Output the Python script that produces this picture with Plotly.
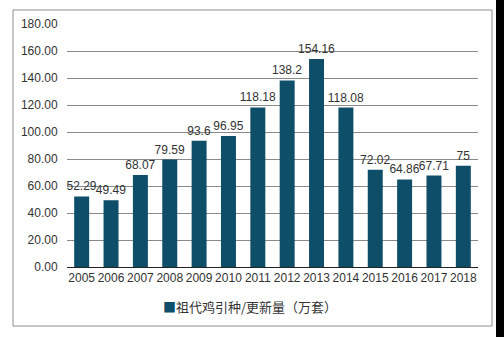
import plotly.graph_objects as go

years = ["2005", "2006", "2007", "2008", "2009", "2010", "2011",
         "2012", "2013", "2014", "2015", "2016", "2017", "2018"]
values = [52.29, 49.49, 68.07, 79.59, 93.6, 96.95, 118.18,
          138.2, 154.16, 118.08, 72.02, 64.86, 67.71, 75]
labels = ["52.29", "49.49", "68.07", "79.59", "93.6", "96.95", "118.18",
          "138.2", "154.16", "118.08", "72.02", "64.86", "67.71", "75"]
series_name = "祖代鸡引种/更新量（万套）"
y_ticks = [0, 20, 40, 60, 80, 100, 120, 140, 160, 180]

bar_color = "#0e4e68"
font_family = "Liberation Sans, Arial, sans-serif"

fig = go.Figure()
fig.add_trace(go.Bar(
    x=years, y=values, text=labels, textposition="outside",
    textfont=dict(size=12, color="#333333", family=font_family),
    marker=dict(color=bar_color, line=dict(width=0)),
    cliponaxis=False, constraintext="none", showlegend=False,
    name=series_name,
))

W, H = 504, 337
L, R, T, B = 67, 26, 24, 70
pw, ph = W - L - R, H - T - B


def px(x):
    return (x - L) / pw


def py(y):
    return (H - B - y) / ph


fig.update_layout(
    width=W, height=H,
    margin=dict(l=L, r=R, t=T, b=B, pad=0),
    paper_bgcolor="white", plot_bgcolor="white",
    bargap=0.49,
    font=dict(family=font_family, size=12, color="#333333"),
    xaxis=dict(
        type="category", showgrid=False, showline=True, linecolor="#222222",
        linewidth=1, ticks="", tickfont=dict(size=12, color="#333333"),
        zeroline=False,
    ),
    yaxis=dict(
        range=[0, 180], tickvals=y_ticks,
        ticktext=[f"{v:.2f}" for v in y_ticks],
        showgrid=True, gridcolor="#8a8a8a", gridwidth=1,
        zeroline=False, showline=False,
        ticks="outside", ticklen=6, tickcolor="rgba(0,0,0,0)",
        tickfont=dict(size=12, color="#333333"),
    ),
    shapes=[
        dict(type="rect", xref="paper", yref="paper",
             x0=px(13), x1=px(492), y0=py(326), y1=py(10),
             line=dict(color="#8c8c8c", width=1), fillcolor="rgba(0,0,0,0)",
             layer="below"),
        dict(type="rect", xref="paper", yref="paper",
             x0=px(496), x1=px(506), y0=py(340), y1=py(-3),
             line=dict(width=0), fillcolor="black", layer="above"),
    ],
    annotations=[
        dict(xref="paper", yref="paper", x=px(250), y=py(306),
             xanchor="center", yanchor="middle", showarrow=False,
             text=f"<span style='color:{bar_color}'>■</span>{series_name}",
             font=dict(size=13, color="#333333",
                       family="Noto Sans CJK SC, sans-serif")),
    ],
)

fig.write_html("out.html")
